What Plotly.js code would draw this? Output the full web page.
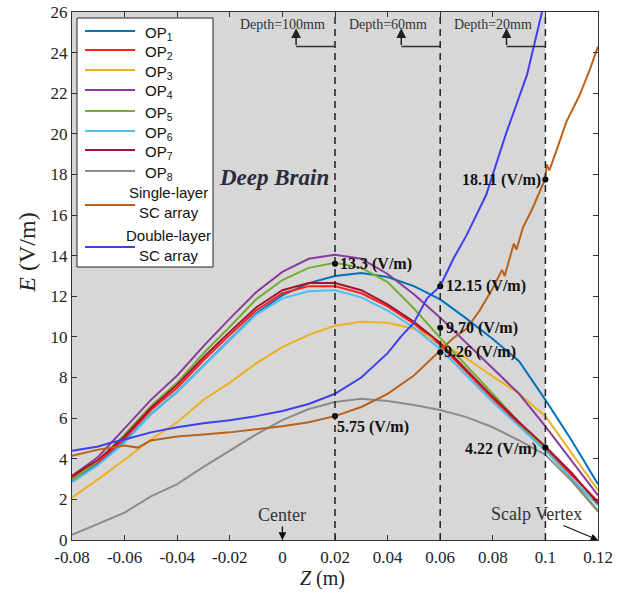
<!DOCTYPE html>
<html>
<head>
<meta charset="utf-8">
<script src="https://cdn.plot.ly/plotly-3.0.1.min.js"></script>
<style>html,body{margin:0;padding:0;background:#fff;}#chart{width:617px;height:595px;}</style>
</head>
<body>
<div id="chart"></div>
<script>
// ---------------- data ----------------
const zGrid = [-0.08,-0.07,-0.06,-0.05,-0.04,-0.03,-0.02,-0.01,0,0.01,0.02,0.03,0.04,0.05,0.06,0.07,0.08,0.09,0.1,0.11,0.12];
const op1 = [2.9,3.75,4.85,6.2,7.3,8.6,9.85,11.15,12.05,12.65,13.0,13.15,12.95,12.5,11.85,10.9,9.9,8.8,6.9,4.9,2.75];
const op2 = [3.05,3.85,5.0,6.4,7.5,8.85,10.1,11.3,12.15,12.5,12.5,12.15,11.5,10.65,9.6,8.25,6.95,5.7,4.5,3.2,1.9];
const op3 = [2.1,3.0,3.95,4.95,5.8,6.9,7.75,8.7,9.5,10.1,10.55,10.75,10.7,10.4,9.75,8.95,8.05,7.2,6.1,4.3,2.45];
const op4 = [3.15,4.1,5.5,6.9,8.1,9.55,10.9,12.2,13.2,13.85,14.05,13.85,13.1,12.1,10.95,9.7,8.5,7.2,5.6,3.9,2.2];
const op5 = [2.95,3.9,5.2,6.6,7.75,9.2,10.5,11.85,12.8,13.4,13.65,13.4,12.7,11.4,9.95,8.6,7.2,5.8,4.45,3.0,1.45];
const op6 = [2.85,3.7,4.8,6.2,7.3,8.6,9.85,11.1,11.9,12.25,12.3,11.95,11.3,10.45,9.4,8.1,6.8,5.6,4.4,3.05,1.7];
const op7 = [3.15,3.95,5.1,6.5,7.65,9.0,10.25,11.45,12.3,12.65,12.65,12.3,11.6,10.75,9.7,8.35,7.05,5.8,4.6,3.3,1.8];
const op8 = [0.25,0.8,1.35,2.15,2.75,3.6,4.4,5.2,5.9,6.45,6.8,6.95,6.85,6.65,6.4,6.05,5.55,4.9,4.2,2.9,1.4];

const zSingle = [-0.08,-0.07,-0.06,-0.055,-0.05,-0.04,-0.03,-0.02,-0.01,0,0.01,0.02,0.03,0.04,0.05,0.055,0.06,0.065,0.07,0.075,0.08,0.0835,0.0845,0.088,0.089,0.0915,0.095,0.0985,0.1,0.1005,0.1015,0.1044,0.108,0.113,0.117,0.12];
const eSingle = [4.15,4.45,4.65,4.55,4.9,5.1,5.2,5.3,5.45,5.6,5.8,6.1,6.55,7.2,8.1,8.7,9.3,9.95,10.4,11.3,12.4,13.3,13.0,14.6,14.3,15.4,16.3,17.4,17.8,18.5,18.2,19.25,20.6,21.9,23.2,24.3];

const zDouble = [-0.08,-0.07,-0.065,-0.06,-0.05,-0.04,-0.03,-0.02,-0.01,0,0.01,0.02,0.03,0.04,0.045,0.05,0.055,0.06,0.065,0.07,0.0775,0.085,0.093,0.0955,0.0987];
const eDouble = [4.4,4.6,4.8,4.95,5.3,5.55,5.75,5.9,6.1,6.35,6.7,7.2,8.0,9.2,10.0,10.7,11.9,12.5,13.85,15.0,17.0,20.0,22.9,24.3,26.0];

const seriesNames = ["OP<sub>1</sub>","OP<sub>2</sub>","OP<sub>3</sub>","OP<sub>4</sub>","OP<sub>5</sub>","OP<sub>6</sub>","OP<sub>7</sub>","OP<sub>8</sub>","Single-layer<br>SC array","Double-layer<br>SC array"];

const zMarks = [0.02,0.06,0.06,0.06,0.02,0.1,0.1];
const eMarks = [13.6,12.5,10.45,9.25,6.1,4.55,17.75];
const markLabels = ["13.3 (V/m)","12.15 (V/m)","9.70 (V/m)","9.26 (V/m)","5.75 (V/m)","4.22 (V/m)","18.11 (V/m)"];

const depthZ = [0.02,0.06,0.1];
const depthLabels = ["Depth=100mm","Depth=60mm","Depth=20mm"];

const xTickVals = [-0.08,-0.06,-0.04,-0.02,0,0.02,0.04,0.06,0.08,0.1,0.12];
const xTickText = ["-0.08","-0.06","-0.04","-0.02","0","0.02","0.04","0.06","0.08","0.1","0.12"];
const yTickVals = [0,2,4,6,8,10,12,14,16,18,20,22,24,26];
const yTickText = ["0","2","4","6","8","10","12","14","16","18","20","22","24","26"];

// ---------------- styles ----------------
const colors = ['#0072BD','#FF1F1F','#EDB120','#8A3C9C','#77AC30','#4DBEEE','#A2142F','#8C8C8C','#B8621B','#3F3FEF'];
const serif = 'Liberation Serif, Times New Roman, serif';
const sans = 'Liberation Sans, Arial, sans-serif';

const W = 617, H = 595, M = {l:72,r:19,t:12,b:55};
const plotW = W - M.l - M.r, plotH = H - M.t - M.b;
const px2paperX = px => (px - M.l) / plotW;
const px2paperY = py => (H - M.b - py) / plotH;

const opData = [op1,op2,op3,op4,op5,op6,op7,op8];
const traces = [];
opData.forEach((ys,i)=>{
  traces.push({x:zGrid,y:ys,type:'scatter',mode:'lines',name:seriesNames[i],showlegend:false,
    line:{color:colors[i],width:2}});
});
traces.push({x:zSingle,y:eSingle,type:'scatter',mode:'lines',name:seriesNames[8],showlegend:false,line:{color:colors[8],width:2}});
traces.push({x:zDouble,y:eDouble,type:'scatter',mode:'lines',name:seriesNames[9],showlegend:false,line:{color:colors[9],width:2}});
traces.push({x:zMarks,y:eMarks,type:'scatter',mode:'markers',showlegend:false,hoverinfo:'skip',
  marker:{color:'#000',size:6}});

// label placement style for each marker label
const labStyle = [
  {xanchor:'left',xshift:3,yshift:0},
  {xanchor:'left',xshift:4,yshift:0},
  {xanchor:'left',xshift:4,yshift:0},
  {xanchor:'left',xshift:2,yshift:0},
  {xanchor:'left',xshift:0,yshift:-11},
  {xanchor:'right',xshift:-6,yshift:-1},
  {xanchor:'right',xshift:-2,yshift:0}
];

const shapes = [
  {type:'rect',xref:'x',yref:'y',x0:-0.08,x1:0.1,y0:0,y1:26,fillcolor:'#d7d7d7',line:{width:0},layer:'below'}
];
depthZ.forEach(z=>{
  shapes.push({type:'line',xref:'x',yref:'y',x0:z,x1:z,y0:0,y1:26,line:{color:'#222',width:1.5,dash:'7px,5px'}});
  shapes.push({type:'line',xref:'x',yref:'y',x0:z,x1:z-0.0148,y0:24.3,y1:24.3,line:{color:'#333',width:1.5}});
});

const annotations = [];
zMarks.forEach((z,i)=>{
  annotations.push({x:z,y:eMarks[i],xref:'x',yref:'y',text:markLabels[i],showarrow:false,
    xanchor:labStyle[i].xanchor,yanchor:'middle',xshift:labStyle[i].xshift,yshift:labStyle[i].yshift,
    font:{family:serif,size:16,color:'#111',weight:'bold'}});
});
depthZ.forEach((z,i)=>{
  annotations.push({x:z-0.0198,y:25.37,xref:'x',yref:'y',text:depthLabels[i],showarrow:false,
    xanchor:'center',yanchor:'middle',font:{family:serif,size:14,color:'#333'}});
  annotations.push({x:z-0.0148,y:25.2,ax:z-0.0148,ay:24.3,xref:'x',yref:'y',axref:'x',ayref:'y',
    text:'',showarrow:true,arrowhead:2,arrowsize:1.3,arrowwidth:1.5,arrowcolor:'#222'});
});
annotations.push({x:0.0184,y:17.83,xref:'x',yref:'y',text:'<b><i>Deep Brain</i></b>',showarrow:false,
  xanchor:'right',yanchor:'middle',font:{family:serif,size:23,color:'#2b2b3b'}});
annotations.push({x:0,y:0,xref:'x',yref:'y',text:'Center',showarrow:true,ax:0,ay:-25,
  arrowhead:2,arrowsize:1.2,arrowwidth:1.3,arrowcolor:'#111',font:{family:serif,size:18,color:'#333'}});
annotations.push({x:0.12,y:0,xref:'x',yref:'y',text:'Scalp Vertex',showarrow:true,ax:-62,ay:-26,
  arrowhead:2,arrowsize:1.2,arrowwidth:1.2,arrowcolor:'#111',font:{family:serif,size:18,color:'#333'}});

// ---------------- legend box (drawn in paper space) ----------------
const legBox = {l:77,r:213,t:18,b:267};
shapes.push({type:'rect',xref:'paper',yref:'paper',x0:px2paperX(legBox.l),x1:px2paperX(legBox.r),
  y0:px2paperY(legBox.b),y1:px2paperY(legBox.t),fillcolor:'#fff',line:{color:'#222',width:1}});
const legRows = [31,50,70,90,111,131,150,171,205,247];
const legTextRows = [33,52,72,92,113,133,152,173,202,245];
seriesNames.forEach((nm,i)=>{
  shapes.push({type:'line',xref:'paper',yref:'paper',x0:px2paperX(85),x1:px2paperX(135),
    y0:px2paperY(legRows[i]),y1:px2paperY(legRows[i]),line:{color:colors[i],width:2}});
  const multi = nm.indexOf('<br>') >= 0;
  annotations.push({xref:'paper',yref:'paper',x:px2paperX(multi?168:143),y:px2paperY(legTextRows[i]),
    text:nm,showarrow:false,xanchor:multi?'center':'left',yanchor:'middle',align:'center',
    font:{family:sans,size:15,color:'#111'}});
});

const axisCommon = {showgrid:false,zeroline:false,showline:true,linecolor:'#333',linewidth:1,
  ticks:'inside',ticklen:5,tickcolor:'#333',mirror:'allticks',tickfont:{family:serif,size:17,color:'#222'}};

// padding (non-trimmed) used to offset the axis titles like the reference
const padX = '\u00a0\u00a0\u00a0\u00a0\u00a0\u200b';
const padY = '\u200b\u00a0\u00a0\u00a0\u00a0\u00a0\u00a0\u00a0\u00a0';

const layout = {
  width:W,height:H,
  margin:M,
  paper_bgcolor:'#fff',plot_bgcolor:'#fff',
  xaxis:Object.assign({},axisCommon,{range:[-0.08,0.12],tickmode:'array',tickvals:xTickVals,ticktext:xTickText,
    ticklabelstandoff:2,
    title:{text:'<i>Z</i> (m)'+padX,font:{family:serif,size:20,color:'#222'},standoff:4}}),
  yaxis:Object.assign({},axisCommon,{range:[0,26],tickmode:'array',tickvals:yTickVals,ticktext:yTickText,
    title:{text:padY+'<i>E</i> (V/m)',font:{family:serif,size:24,color:'#222'},standoff:8}}),
  shapes:shapes,annotations:annotations,showlegend:false
};
Plotly.newPlot('chart',traces,layout,{displayModeBar:false,staticPlot:true});
</script>
</body>
</html>
